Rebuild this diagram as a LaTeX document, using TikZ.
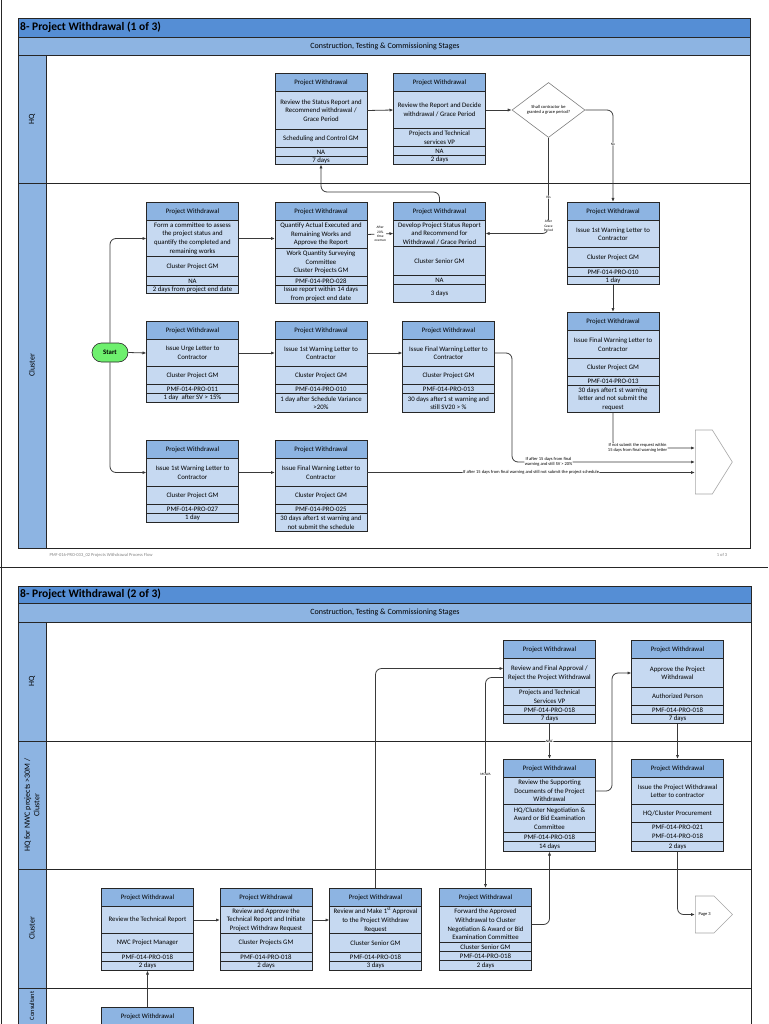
\documentclass[tikz,border=0pt]{standalone}
\usepackage{fontspec}
\setmainfont{Carlito}
\usetikzlibrary{shapes.geometric, shapes.symbols, arrows.meta, positioning, calc}

\definecolor{titlec}{HTML}{558ED5}
\definecolor{stagec}{HTML}{8DB4E2}
\definecolor{headc}{HTML}{8DB4E2}
\definecolor{cellc}{HTML}{C6D9F1}
\definecolor{linec}{HTML}{262626}
\definecolor{arrc}{HTML}{3A3A3A}
\definecolor{startc}{HTML}{6EF06E}

\newcommand{\boxfont}{\fontsize{6.8}{8.6}\selectfont}
\newcommand{\smallfont}{\fontsize{4.5}{5.3}\selectfont}
\newcommand{\microfont}{\fontsize{3.5}{4.2}\selectfont}

\tikzstyle{pwhead} = [rectangle, minimum width=92, minimum height=18.5, inner sep=0.5pt, outer sep=0pt, draw=linec, line width=0.8pt, fill=headc, align=center, font=\boxfont]
\tikzstyle{pwcell} = [pwhead, fill=cellc]
\tikzstyle{decision} = [diamond, aspect=1.33, minimum width=73, minimum height=55, inner sep=0pt, draw=gray, line width=0.6pt, fill=white, align=center, font=\smallfont]
\tikzstyle{startstop} = [rectangle, rounded corners=9.5pt, minimum width=36, minimum height=19, draw=linec, line width=0.6pt, fill=startc, font=\boxfont\bfseries]
\tikzstyle{offpage} = [signal, signal to=east, minimum width=37, anchor=west, draw=gray!70, line width=0.6pt, fill=white, font=\smallfont]
\tikzstyle{arrow} = [draw=arrc, line width=0.8pt, -{Latex[length=4pt,width=3.2pt]}, rounded corners=6pt]
\tikzstyle{lbl} = [fill=white, inner sep=0.3pt, align=center, font=\smallfont]
\tikzstyle{tiny} = [lbl, font=\microfont]
\tikzstyle{lanename} = [rotate=90, align=center, font=\fontsize{8}{9.5}\selectfont]
\tikzstyle{frame} = [draw=linec, line width=0.8pt]

% one process box: header, task, owner, form, duration
\newcommand{\pwbox}[7]{%
  \node (#1) [pwhead, anchor=north] at (#2) {Project Withdrawal};
  \pwparts{#1}#3\relax{#4}{#5}{#6}{#7}}
\def\pwparts#1#2/#3/#4/#5\relax#6#7#8#9{%
  \node (#1d) [pwcell, minimum height=#2, below=0pt of #1] {#6};
  \node (#1r) [pwcell, minimum height=#3, below=0pt of #1d] {#7};
  \node (#1c) [pwcell, minimum height=#4, below=0pt of #1r] {#8};
  \node (#1t) [pwcell, minimum height=#5, below=0pt of #1c] {#9};}

\begin{document}
\begin{tikzpicture}[x=1pt, y=-1pt]
\useasboundingbox (0,0) rectangle (768,1024);
\clip (0,0) rectangle (768,1024);

% page edges
\draw[frame] (1,0) -- (1,1024);
\draw[frame] (0,567) -- (768,567);

%%%%%%%% page 1
\draw[frame, fill=titlec] (18,18) rectangle (750,37);
\draw[frame, fill=stagec] (18,37) rectangle (750,55);
\draw[frame, fill=stagec] (18,55) rectangle (46,548);
\draw[frame] (46,55) rectangle (750,548);
\draw[frame] (18,183) -- (750,183);
\node[anchor=west, font=\fontsize{11.5}{13}\selectfont\bfseries, inner sep=0pt] at (20,27.5) {8- Project Withdrawal (1 of 3)};
\node[font=\fontsize{8}{9}\selectfont] at (385,46) {Construction, Testing \& Commissioning Stages};
\node[lanename] at (32,119) {HQ};
\node[lanename] at (32,365.5) {Cluster};
\node[anchor=west, font=\smallfont, text=gray] at (46,555) {PMF-016-PRO-033\_02 Projects Withdrawal Process Flow};
\node[font=\smallfont, text=gray] at (722,555) {1 of 3};

% HQ
\pwbox{rev}{321,73}{38/18/9/8}{Review the Status Report and\\Recommend withdrawal /\\Grace Period}{Scheduling and Control GM}{NA}{7 days}
\pwbox{dec}{439.5,73}{37/18/9/9}{Review the Report and Decide\\withdrawal / Grace Period}{Projects and Technical\\services VP}{NA}{2 days}
\node (grace) [decision] at (548.5,110) {Shall contractor be\\granted a grace period?};

% Cluster
\pwbox{form}{192.5,202}{36/20/9/8}{Form a committee to assess\\the project status and\\quantify the completed and\\remaining works}{Cluster Project GM}{NA}{2 days from project end date}
\pwbox{quant}{321,202}{28/28/9/18}{Quantify Actual Executed and\\Remaining Works and\\Approve the Report}{Work Quantity Surveying\\Committee\\Cluster Projects GM}{PMF-014-PRO-028}{Issue report within 14 days\\from project end date}
\pwbox{devl}{439.5,202}{26/29/9/18}{Develop Project Status Report\\and Recommend for\\Withdrawal / Grace Period}{Cluster Senior GM}{NA}{3 days}
\pwbox{warn}{613,202}{27/20/9/8}{Issue 1st Warning Letter to\\Contractor}{Cluster Project GM}{PMF-014-PRO-010}{1 day}
\pwbox{fwarn}{613,312}{28/18/9/27}{Issue Final Warning Letter to\\Contractor}{Cluster Project GM}{PMF-014-PRO-013}{30 days after1 st warning\\letter and not submit the\\request}

\node (start) [startstop] at (110,352.5) {Start};
\pwbox{urge}{192.5,321}{27/18/9/9}{Issue Urge Letter to\\Contractor}{Cluster Project GM}{PMF-014-PRO-011}{1 day~ after SV > 15\%}
\pwbox{warnb}{321,321}{27/18/9/19}{Issue 1st Warning Letter to\\Contractor}{Cluster Project GM}{PMF-014-PRO-010}{1 day after Schedule Variance\\>20\%}
\pwbox{fwarnb}{448.5,321}{27/18/9/19}{Issue Final Warning Letter to\\Contractor}{Cluster Project GM}{PMF-014-PRO-013}{30 days after1 st warning and\\still SV20 > \%}

\pwbox{warnc}{192.5,440}{28/18/9/9}{Issue 1st Warning Letter to\\Contractor}{Cluster Project GM}{PMF-014-PRO-027}{1 day}
\pwbox{fwarnc}{321,440}{28/18/9/18}{Issue Final Warning Letter to\\Contractor}{Cluster Project GM}{PMF-014-PRO-025}{30 days after1 st warning and\\not submit the schedule}

\node (off1) [offpage, minimum height=64, signal pointer angle=116] at (695,462) {};

\draw [arrow] (revd.east) -- (decd.west);
\draw [arrow] (decd.east) -- (grace.west);
\draw [arrow] (grace.east) -| node[tiny, pos=0.685] {No} (warn.north);
\draw [arrow] (grace.south) |- node[tiny, pos=0.31] {Yes} node[tiny, pos=0.46] {After\\Grace\\Period} (devld.east);
\draw [arrow] (devl.north) -- ++(0,-10) -| (revt.south);
\draw [arrow] (start.north) |- (formd.west);
\draw [arrow] (formd.east) -- (formd.east -| quantd.west);
\draw [arrow] (quantd.east) -- node[tiny] {After\\20\%\\time\\overrun} (devld.west);
\draw [arrow] (warnt.south) -- (fwarn.north);
\draw [arrow] (fwarnt.south) |- node[lbl, pos=0.65] {If not submit the request within\\15 days from final warning letter} ([yshift=14pt]off1.west);
\draw [arrow] (start.east) -- (urged.west);
\draw [arrow] (urged.east) -- (warnbd.west);
\draw [arrow] (warnbd.east) -- (fwarnbd.west);
\draw [arrow] (fwarnbd.east) -- ++(17.5,0) |- node[lbl, pos=0.6] {If after 15 days from final\\warning and still SV > 20\%} (off1.west);
\draw [arrow] (start.south) |- (warncd.west);
\draw [arrow] (warncd.east) -- (fwarncd.west);
\draw [arrow] (fwarncd.east) -- node[lbl] {If after 15 days from final warning and still not submit the project schedule} (fwarncd.east -| off1.west);

%%%%%%%% page 2
\draw[frame, fill=titlec] (18,586) rectangle (751,603);
\draw[frame, fill=stagec] (18,603) rectangle (751,622);
\draw[frame, fill=stagec] (18,622) rectangle (46,1030);
\draw[frame] (46,622) rectangle (751,1030);
\draw[frame] (18,741) -- (751,741);
\draw[frame] (18,869) -- (751,869);
\draw[frame] (18,988) -- (751,988);
\node[anchor=west, font=\fontsize{11.5}{13}\selectfont\bfseries, inner sep=0pt] at (20,594.5) {8- Project Withdrawal (2 of 3)};
\node[font=\fontsize{8}{9}\selectfont] at (385,612.5) {Construction, Testing \& Commissioning Stages};
\node[lanename] at (32,681.5) {HQ};
\node[lanename] at (32,805) {HQ for NWC projects >30M /\\Cluster};
\node[lanename] at (32,928.5) {Cluster};
\node[lanename, font=\fontsize{6.5}{8}\selectfont] at (32,1006) {Consultant};

\pwbox{fapp}{549.5,640}{29/18/9/9}{Review and Final Approval /\\Reject the Project Withdrawal}{Projects and Technical\\Services VP}{PMF-014-PRO-018}{7 days}
\pwbox{auth}{677.5,640}{29/18/9/9}{Approve the Project\\Withdrawal}{Authorized Person}{PMF-014-PRO-018}{7 days}
\pwbox{supp}{549.5,759}{27/28/9/10}{Review the Supporting\\Documents of the Project\\Withdrawal}{HQ/Cluster Negotiation \&\\Award or Bid Examination\\Committee}{PMF-014-PRO-018}{14 days}
\pwbox{letter}{677.5,759}{27/18/19/10}{Issue the Project Withdrawal\\Letter to contractor}{HQ/Cluster Procurement}{PMF-014-PRO-021\\PMF-014-PRO-018}{2 days}
\pwbox{tech}{147.5,888}{27/19/9/9}{Review the Technical Report}{NWC Project Manager}{PMF-014-PRO-018}{2 days}
\pwbox{init}{266,888}{27/19/9/9}{Review and Approve the\\Technical Report and Initiate\\Project Withdraw Request}{Cluster Projects GM}{PMF-014-PRO-018}{2 days}
\pwbox{first}{375.5,888}{27/19/9/9}{Review and Make 1\textsuperscript{st} Approval\\to the Project Withdraw\\Request}{Cluster Senior GM}{PMF-014-PRO-018}{3 days}
\pwbox{fwd}{485.5,888}{36/9/9/10}{Forward the Approved\\Withdrawal to Cluster\\Negotiation \& Award or Bid\\Examination Committee}{Cluster Senior GM}{PMF-014-PRO-018}{2 days}
\node (cons) [pwhead, anchor=north] at (147.5,1007) {Project Withdrawal};
\node (consd) [pwcell, minimum height=30, below=0pt of cons] {};
\node (off2) [offpage, minimum height=37, signal pointer angle=90] at (695,914.5) {Page 3};

\draw [arrow] (cons.north) -- (techt.south);
\draw [arrow] (techd.east) -- (initd.west);
\draw [arrow] (initd.east) -- (firstd.west);
\draw [arrow] (first.north) |- ([yshift=4.5pt]fappd.west);
\draw [arrow] ([yshift=-4.5pt]fappd.west) -| node[tiny, pos=0.73] {MOWA} (fwd.north);
\draw [arrow] (fappt.south) -- node[tiny] {NWC} (supp.north);
\draw [arrow] (suppd.east) -- ++(16.5,0) |- (authd.west);
\draw [arrow] (fwdd.east) -| (suppt.south);
\draw [arrow] (autht.south) -- (letter.north);
\draw [arrow] (lettert.south) |- (off2.west);

\end{tikzpicture}
\end{document}
